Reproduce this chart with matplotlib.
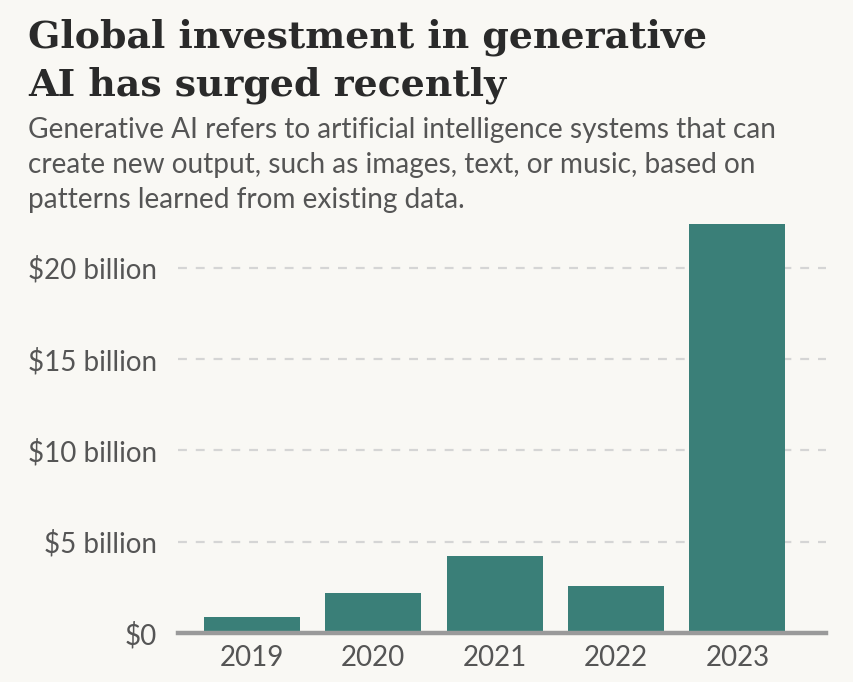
import matplotlib
matplotlib.use("Agg")
import matplotlib.pyplot as plt

years = ["2019", "2020", "2021", "2022", "2023"]
investment = [0.9, 2.2, 4.2, 2.6, 22.4]
yticks = [0, 5, 10, 15, 20]
ytick_labels = ["$0", "$5 billion", "$10 billion", "$15 billion", "$20 billion"]

title_lines = ["Global investment in generative", "AI has surged recently"]
subtitle_lines = [
    "Generative AI refers to artificial intelligence systems that can",
    "create new output, such as images, text, or music, based on",
    "patterns learned from existing data.",
]

BG = "#f9f8f4"
BAR = "#3a7f78"
W, H = 854, 682

fig = plt.figure(figsize=(W / 100, H / 100), dpi=100, facecolor=BG)

def fy(py):
    return 1 - py / H

title_baselines = [48, 96]
for line, yb in zip(title_lines, title_baselines):
    fig.text(28 / W, fy(yb), line, fontsize=27.3, fontweight="bold",
             family="DejaVu Serif", color="#2a2a2a", va="baseline", ha="left")

sub_baselines = [138, 173, 208]
for line, yb in zip(subtitle_lines, sub_baselines):
    fig.text(28 / W, fy(yb), line, fontsize=20.2, family="Lato",
             color="#555555", va="baseline", ha="left")

ax = fig.add_axes([178 / W, 1 - 633 / H, (826 - 178) / W, (633 - 222) / H])
ax.set_facecolor(BG)
x = list(range(len(years)))
ax.bar(x, investment, width=0.79, color=BAR, zorder=3)
ax.set_xlim(-0.61, 4.73)
ax.set_ylim(0, 22.5)

for t in yticks[1:]:
    ax.axhline(t, color="#d5d5d5", lw=1.6, dashes=(4, 4), zorder=1)
ax.axhline(0, color="#9a9a9a", lw=3.2, zorder=4, clip_on=False)

ax.set_yticks(yticks)
ax.set_yticklabels(ytick_labels, family="Lato", fontsize=20, color="#555555")
ax.set_xticks(x)
ax.set_xticklabels(years, family="Lato", fontsize=20, color="#555555")
ax.tick_params(axis="both", length=0)
ax.tick_params(axis="y", pad=15)
ax.tick_params(axis="x", pad=9)
for s in ax.spines.values():
    s.set_visible(False)

fig.savefig("out.png", dpi=100, facecolor=BG)
